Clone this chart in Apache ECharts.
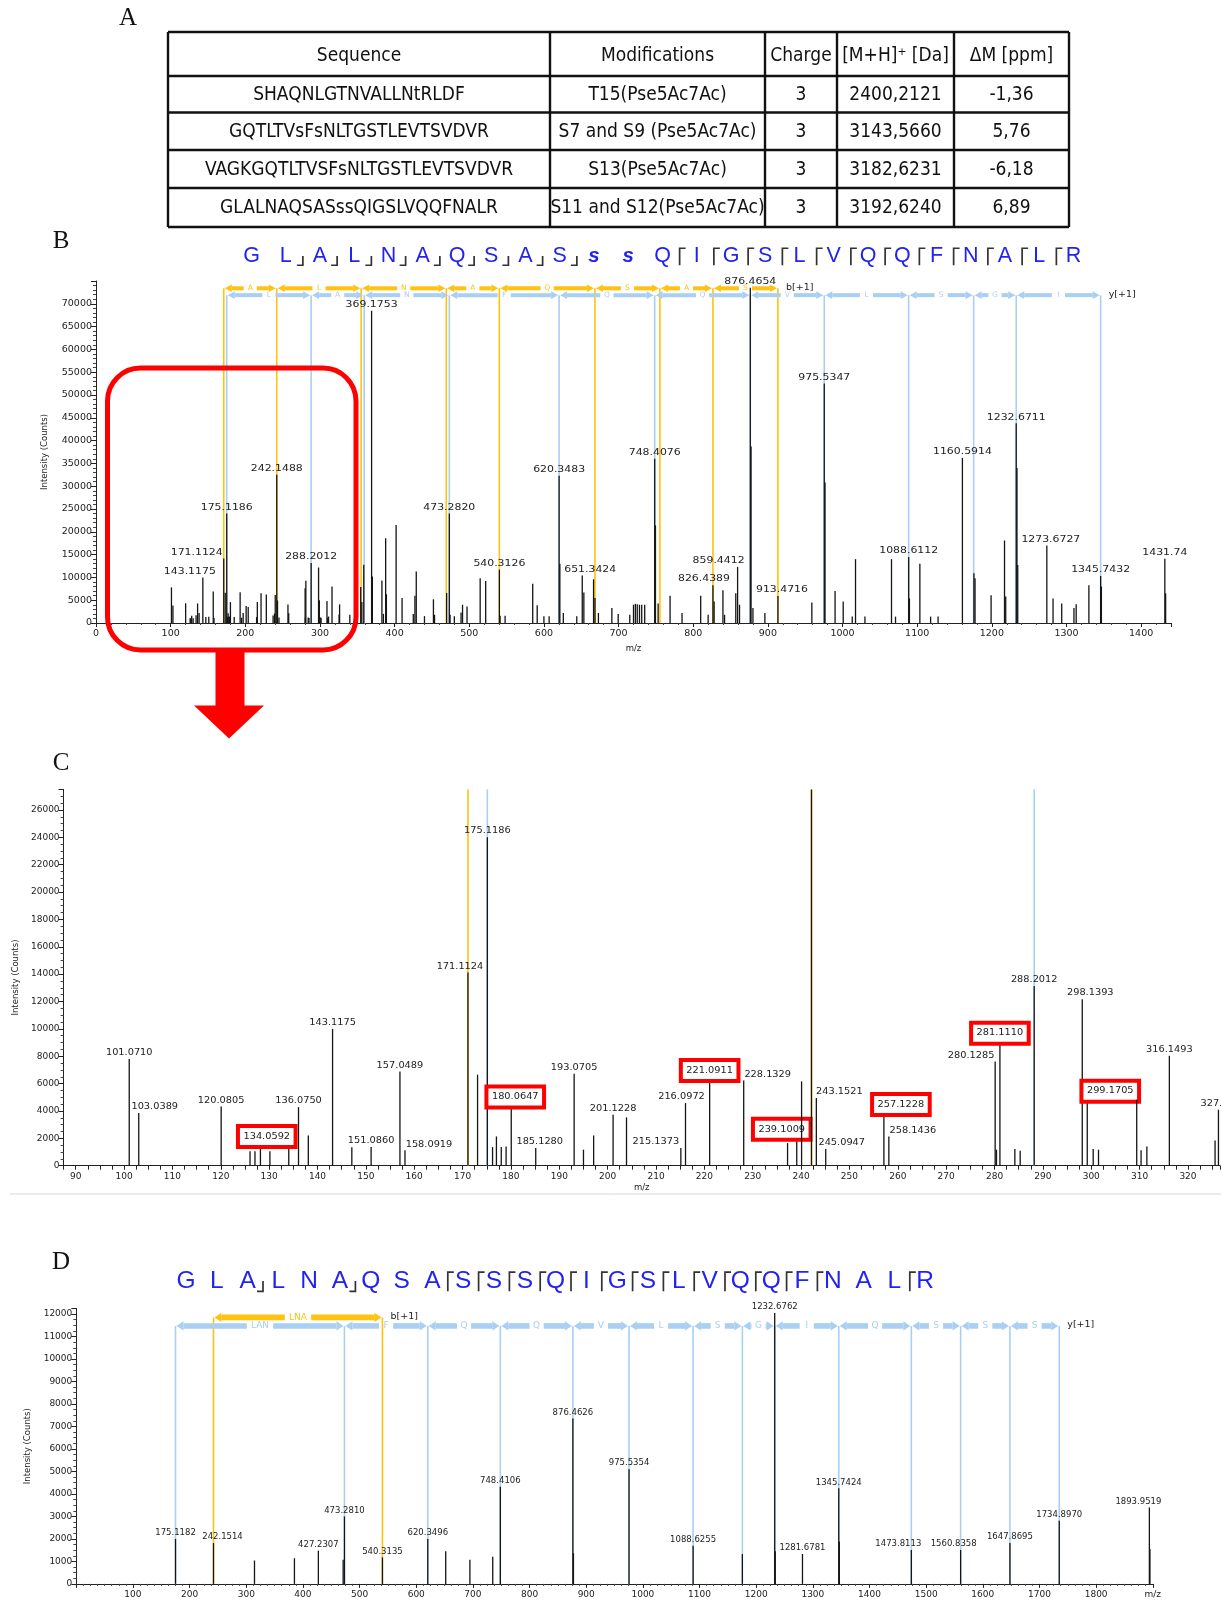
<!DOCTYPE html>
<html><head><meta charset="utf-8">
<script src="https://cdn.jsdelivr.net/npm/echarts@6/dist/echarts.min.js"></script>
<style>html,body{margin:0;padding:0;background:#fff}#c{width:1221px;height:1602px}</style>
</head><body><div id="c"></div>
<script>
// ---------------- DATA ----------------
const tableHeader = ['Sequence', 'Modifications', 'Charge', '[M+H]\u207A [Da]', '\u0394M [ppm]'];
const tableSequence = ['SHAQNLGTNVALLNtRLDF', 'GQTLTVsFsNLTGSTLEVTSVDVR', 'VAGKGQTLTVSFsNLTGSTLEVTSVDVR', 'GLALNAQSASssQIGSLVQQFNALR'];
const tableModification = ['T15(Pse5Ac7Ac)', 'S7 and S9 (Pse5Ac7Ac)', 'S13(Pse5Ac7Ac)', 'S11 and S12(Pse5Ac7Ac)'];
const tableCharge = ['3', '3', '3', '3'];
const tableMass = ['2400,2121', '3143,5660', '3182,6231', '3192,6240'];
const tableDelta = ['-1,36', '5,76', '-6,18', '6,89'];

// spectrum (panels B and C) - low mass part
const peaksLowMz = [101.0710, 103.0389, 120.0805, 126.05, 127.07, 128.2, 130.16, 134.0592, 136.0750, 138.1,
  143.1175, 147.1, 151.0860, 157.0489, 158.0919, 171.1124, 173.1, 175.1186, 176.2, 177.0, 178.0, 179.0,
  180.0647, 185.1280, 193.0705, 195.0, 197.1, 201.1228, 203.9, 215.1373, 216.0972, 221.0911, 228.1329,
  237.2, 239.1009, 240.1, 242.1488, 243.1521, 245.0947, 257.1228, 258.1436, 280.1285, 280.4, 281.1110,
  284.2, 285.3, 288.2012, 298.1393, 299.1705, 300.4, 301.5, 309.4, 310.3, 311.5, 316.1493, 325.6, 326.3];
const peaksLowInt = [7800, 3850, 4330, 1050, 1050, 1600, 1050, 1700, 4280, 2200,
  10000, 1340, 1360, 6890, 1120, 14120, 6650, 24000, 1360, 2140, 1360, 1410,
  4580, 1290, 6720, 1170, 2210, 3720, 3530, 1290, 4580, 6520, 6230,
  1650, 2070, 6160, 32500, 4940, 1220, 4040, 2140, 7620, 1170, 9250,
  1220, 1100, 13140, 12170, 5000, 1220, 1170, 4820, 1120, 1410, 8030, 1850, 4090];
// spectrum (panel B) - high mass part
const peaksHighMz = [340, 354.6, 356.1, 358.7, 369.1753, 370.2, 383.0, 385.0, 388.0, 389.0, 402.0, 410.0,
  425.0, 427.2, 429.0, 440.0, 452.0, 453.5, 469.7, 473.2820, 474.3, 480.0, 489.0, 491.0, 497.0, 514.6,
  522.0, 540.3126, 541.3, 548.0, 585.0, 591.0, 600.0, 607.0, 620.3483, 621.35, 626.0, 644.0, 651.3424,
  653.5, 666.5, 668.4, 673.0, 691.0, 699.5, 715.0, 720.0, 722.5, 725.0, 728.0, 731.0, 735.0, 748.4076,
  749.41, 753.0, 769.0, 785.0, 810.0, 820.0, 826.4389, 828.0, 839.8, 842.0, 857.0, 859.4412, 862.0,
  876.4654, 877.47, 880.0, 896.0, 913.4716, 958.9, 975.5347, 976.54, 990.0, 1000.9, 1013.0, 1017.4,
  1030.0, 1065.6, 1071.0, 1088.6112, 1089.6, 1103.6, 1118.0, 1128.0, 1160.5914, 1176.0, 1177.5, 1199.0,
  1217.0, 1218.6, 1232.6711, 1233.67, 1234.7, 1273.6727, 1282.0, 1293.6, 1310.0, 1313.0, 1330.0,
  1345.7432, 1346.75, 1431.74, 1432.8];
const peaksHighInt = [1800, 7900, 4600, 12750, 68500, 10200, 9300, 2000, 18600, 6300, 21500, 5500,
  2000, 6000, 11300, 1500, 5200, 1800, 6600, 24000, 1800, 1500, 2300, 4000, 3600, 9800,
  9200, 11700, 1600, 1600, 8600, 3900, 1500, 1500, 32300, 13000, 2200, 1500, 10400,
  6700, 9600, 5500, 2200, 3300, 2000, 1800, 4000, 4200, 4100, 4000, 4000, 4000, 36000,
  21400, 4300, 6000, 2200, 6000, 1800, 8300, 4700, 7200, 1800, 6500, 12300, 4000,
  73500, 38700, 3300, 2200, 5900, 4500, 52500, 30800, 7000, 4700, 1400, 14000,
  1400, 14000, 1400, 14500, 5400, 13000, 1400, 1400, 36200, 10900, 9800, 6100,
  18100, 5800, 43800, 34000, 12700, 17000, 5400, 4300, 3300, 4100, 8300,
  10300, 8000, 14100, 6500];

const labelsB = ['143.1175', '171.1124', '175.1186', '242.1488', '288.2012', '369.1753', '473.2820', '540.3126',
  '620.3483', '651.3424', '748.4076', '826.4389', '859.4412', '876.4654', '913.4716', '975.5347', '1088.6112',
  '1160.5914', '1232.6711', '1273.6727', '1345.7432', '1431.74'];
const labelsC = ['101.0710', '103.0389', '120.0805', '134.0592', '136.0750', '143.1175', '151.0860', '157.0489',
  '158.0919', '171.1124', '175.1186', '180.0647', '185.1280', '193.0705', '201.1228', '215.1373', '216.0972',
  '221.0911', '228.1329', '239.1009', '243.1521', '245.0947', '257.1228', '258.1436', '280.1285', '281.1110',
  '288.2012', '298.1393', '299.1705', '316.1493', '327.1'];
const boxedC = ['134.0592', '180.0647', '221.0911', '239.1009', '257.1228', '281.1110', '299.1705'];

// fragment ladders panel B
const bIonsB = [171.1124, 242.1488, 355.19, 469.23, 540.3126, 668.37, 755.40, 826.4389, 913.4716];
const bResB = ['A', 'L', 'N', 'A', 'Q', 'S', 'A', 'S'];
const yIonsB = [175.1186, 288.2012, 359.24, 473.2820, 620.3483, 748.4076, 876.4654, 975.5347, 1088.6112, 1175.64, 1232.6711, 1345.7432];
const yResB = ['L', 'A', 'N', 'F', 'Q', 'Q', 'V', 'L', 'S', 'G', 'I'];
// ion lines panel C
const bIonsC = [171.1124, 242.1488];
const yIonsC = [175.1186, 288.2012];

// panel D
const peaksDMz = [175.1182, 242.1514, 314.5, 385.0, 427.2307, 471.0, 473.2810, 540.3135, 620.3496, 652.0,
  694.7, 735.0, 748.4106, 876.4626, 877.46, 975.5354, 1088.6255, 1175.6, 1232.6762, 1233.68, 1281.6781,
  1345.7424, 1346.75, 1473.8113, 1560.8358, 1647.8695, 1734.8970, 1893.9519, 1894.95];
const peaksDInt = [2000, 1820, 1040, 1140, 1480, 1070, 3000, 1180, 2000, 1450,
  1070, 1210, 4320, 7360, 1360, 5100, 1700, 1330, 12050, 1450, 1330,
  4250, 1880, 1510, 1510, 1820, 2810, 3400, 1550];
const labelsD = ['175.1182', '242.1514', '427.2307', '473.2810', '540.3135', '620.3496', '748.4106', '876.4626',
  '975.5354', '1088.6255', '1232.6762', '1281.6781', '1345.7424', '1473.8113', '1560.8358', '1647.8695',
  '1734.8970', '1893.9519'];
const bIonsD = [242.1514, 540.3135];
const bResD = ['LNA'];
const yIonsD = [175.1182, 473.2810, 620.3496, 748.4106, 876.4626, 975.5354, 1088.6255, 1175.6, 1232.6762,
  1345.7424, 1473.8113, 1560.8358, 1647.8695, 1734.8970];
const yResD = ['LAN', 'F', 'Q', 'Q', 'V', 'L', 'S', 'G', 'I', 'Q', 'S', 'S', 'S'];

// sequence annotations
const seqB = ['G','L','A','L','N','A','Q','S','A','S','s','s','Q','I','G','S','L','V','Q','Q','F','N','A','L','R'];
const seqBModified = [10, 11];
const seqBbCuts = [1, 2, 3, 4, 5, 6, 7, 8, 9];
const seqByCuts = [13, 14, 15, 16, 17, 18, 19, 20, 21, 22, 23, 24];
const seqD = ['G','L','A','L','N','A','Q','S','A','S','S','S','Q','I','G','S','L','V','Q','Q','F','N','A','L','R'];
const seqDbCuts = [2, 5];
const seqDyCuts = [9, 10, 11, 12, 13, 14, 15, 16, 17, 18, 19, 20, 21, 24];

// ---------------- LAYOUT / STYLE ----------------
const FONT = 'Liberation Sans, Arial, Helvetica, sans-serif';
const LFONT = '"DejaVu Sans", Verdana, sans-serif';
const NARROW = '"Liberation Sans Narrow", "DejaVu Sans Condensed", "Arial Narrow", sans-serif';
const SERIF = '"Liberation Serif", "Times New Roman", serif';
const YEL = '#FFC20E', BLU = '#A9CFF2', SEQBLUE = '#2323f0';

const shiftsB = {'143.1175': [-13, 0], '171.1124': [-27, 0], '651.3424': [8, 0], '826.4389': [-9, 0],
  '859.4412': [-19, 0], '913.4716': [4, 0], '1273.6727': [4, 0]};
const shiftsC = {'103.0389': [16, 0], '134.0592': [-22, 0], '158.0919': [24, 0], '171.1124': [-8, 0],
  '180.0647': [4, 0], '185.1280': [4, 0], '215.1373': [-25, 0], '216.0972': [-4, 0], '228.1329': [24, 0],
  '239.1009': [-15, -2], '243.1521': [23, 0], '245.0947': [16, 0], '257.1228': [17, 0], '258.1436': [24, 0],
  '280.1285': [-24, 0], '298.1393': [8, 0], '299.1705': [23, 0], '327.1': [-4, 0]};
const shiftsD = {'242.1514': [9, 0], '1473.8113': [-13, 0], '1560.8358': [-7, 0], '1893.9519': [-11, 0]};

function buildLabelMap(mzs, labels) {
  const map = {};
  labels.forEach(l => {
    const v = parseFloat(l);
    let best = -1, bd = 1e9;
    mzs.forEach((m, i) => { const d = Math.abs(m - v); if (d < bd) { bd = d; best = i; } });
    if (best >= 0 && bd < 1.5) map[best] = l;
  });
  return map;
}
function textWidth(s, fs) {
  let w = 0;
  for (const ch of s) w += (ch === '.' || ch === ',') ? 0.318 : 0.636;
  return w * fs;
}

function peakSeries(gi, mzs, ints, labels, boxed, shifts, fs, sx) {
  const labelMap = buildLabelMap(mzs, labels);
  const boxSet = new Set(boxed);
  return {
    type: 'custom', xAxisIndex: gi, yAxisIndex: gi, z: 5, silent: true,
    data: mzs.map((m, i) => [m, ints[i]]),
    encode: {x: 0, y: 1},
    renderItem(params, api) {
      const cs = params.coordSys;
      const m = api.value(0), v = api.value(1);
      const b = api.coord([m, 0]), t = api.coord([m, v]);
      if (b[0] < cs.x - 1 || b[0] > cs.x + cs.width + 1) return null;
      const ty = Math.max(t[1], cs.y);
      const ch = [{type: 'line', shape: {x1: b[0], y1: b[1], x2: b[0], y2: ty}, style: {stroke: '#151515', lineWidth: 1.3}}];
      const lab = labelMap[params.dataIndex];
      if (lab) {
        const sh = shifts[lab] || [0, 0];
        const tx = b[0] + sh[0], tcy = ty - 6 + sh[1];
        if (boxSet.has(lab)) {
          const w = textWidth(lab, fs) * sx + 11, h = 21;
          ch.push({type: 'rect', shape: {x: tx - w / 2, y: tcy - h / 2, width: w, height: h},
            style: {fill: '#fff', stroke: '#ff0000', lineWidth: 4}});
        }
        ch.push({type: 'text', x: tx, y: tcy, scaleX: sx, scaleY: 1,
          style: {text: lab, x: 0, y: 0, align: 'center', verticalAlign: 'middle',
          fontSize: fs, fontFamily: LFONT, fill: '#222'}});
      }
      return {type: 'group', children: ch};
    }
  };
}

function ladderSeries(gi, ions, residues, rowVal, color, tail, bh, fs) {
  return {
    type: 'custom', xAxisIndex: gi, yAxisIndex: gi, z: 4, silent: true,
    data: residues.map((r, i) => [ions[i], ions[i + 1], rowVal]),
    encode: {x: [0, 1], y: 2},
    renderItem(params, api) {
      const p1 = api.coord([api.value(0), api.value(2)]);
      const p2 = api.coord([api.value(1), api.value(2)]);
      const y = p1[1], x1 = p1[0], x2 = p2[0];
      const lab = residues[params.dataIndex];
      const mid = (x1 + x2) / 2, tw = lab.length * fs * 0.68 + 8;
      const ah = 7, hh = bh + 1.8;
      const ch = [];
      ch.push({type: 'polygon', shape: {points: [[x1 + 1, y], [x1 + 1 + ah, y - hh], [x1 + 1 + ah, y + hh]]}, style: {fill: color}});
      ch.push({type: 'polygon', shape: {points: [[x2 - 1, y], [x2 - 1 - ah, y - hh], [x2 - 1 - ah, y + hh]]}, style: {fill: color}});
      const l1 = x1 + 1 + ah, r1 = mid - tw / 2, l2 = mid + tw / 2, r2 = x2 - 1 - ah;
      if (r1 > l1) ch.push({type: 'rect', shape: {x: l1, y: y - bh, width: r1 - l1, height: 2 * bh}, style: {fill: color}});
      if (r2 > l2) ch.push({type: 'rect', shape: {x: l2, y: y - bh, width: r2 - l2, height: 2 * bh}, style: {fill: color}});
      ch.push({type: 'text', style: {text: lab, x: mid, y: y, align: 'center', verticalAlign: 'middle',
        fontSize: fs, fontFamily: LFONT, fill: color}});
      if (tail && params.dataIndex === residues.length - 1) {
        ch.push({type: 'text', style: {text: tail, x: x2 + 8, y: y - 1, align: 'left', verticalAlign: 'middle',
          fontSize: 9.5, fontFamily: LFONT, fill: '#222'}});
      }
      return {type: 'group', children: ch};
    }
  };
}

function vertSeries(gi, ions, topVal, color) {
  return {
    type: 'custom', xAxisIndex: gi, yAxisIndex: gi, z: 2, silent: true,
    data: ions.map(m => [m, topVal]),
    encode: {x: 0, y: 1},
    renderItem(params, api) {
      const cs = params.coordSys;
      const b = api.coord([api.value(0), 0]), t = api.coord([api.value(0), api.value(1)]);
      return {type: 'line', shape: {x1: b[0], y1: b[1], x2: b[0], y2: Math.max(t[1], cs.y)},
        style: {stroke: color, lineWidth: 1.6}};
    }
  };
}

function xAxisCfg(gi, min, max, interval, fmt, name, nameGap, minorSplit, fs) {
  return {
    gridIndex: gi, type: 'value', min, max, interval,
    name, nameLocation: 'middle', nameGap, nameTextStyle: {fontSize: 8.5, color: '#222', fontFamily: LFONT},
    axisLine: {lineStyle: {color: '#222', width: 1}},
    axisTick: {length: 4, lineStyle: {color: '#222'}},
    minorTick: {show: minorSplit > 0, splitNumber: minorSplit || 2, length: 2, lineStyle: {color: '#444'}},
    splitLine: {show: false},
    axisLabel: {fontSize: fs, color: '#222', fontFamily: LFONT, margin: 6, formatter: fmt}
  };
}
function yAxisCfg(gi, max, interval, labelMax, nameGap, minorSplit, fs) {
  return {
    gridIndex: gi, type: 'value', min: 0, max, interval,
    name: 'Intensity (Counts)', nameLocation: 'middle', nameGap,
    nameTextStyle: {fontSize: 8.5, color: '#222', fontFamily: LFONT},
    axisLine: {show: true, lineStyle: {color: '#222', width: 1}},
    axisTick: {show: true, length: 5, lineStyle: {color: '#222'}},
    minorTick: {show: true, splitNumber: minorSplit, length: 3, lineStyle: {color: '#444'}},
    splitLine: {show: false},
    axisLabel: {fontSize: fs, color: '#222', fontFamily: LFONT, margin: 4,
      formatter: v => (v > labelMax ? '' : String(v))}
  };
}

// graphics: table, panel letters, sequences, red box and arrow
const graphic = [];
const colX = [168, 550, 765, 837, 954, 1069];
const rowY = [32, 76, 112.5, 150, 188, 227];
rowY.forEach(y => graphic.push({type: 'line', shape: {x1: colX[0], y1: y, x2: colX[5], y2: y}, style: {stroke: '#111', lineWidth: 2.4}}));
colX.forEach(x => graphic.push({type: 'line', shape: {x1: x, y1: rowY[0], x2: x, y2: rowY[5]}, style: {stroke: '#111', lineWidth: 2.4}}));
const tableCols = [tableSequence, tableModification, tableCharge, tableMass, tableDelta];
tableHeader.forEach((h, c) => {
  const cx = (colX[c] + colX[c + 1]) / 2;
  graphic.push({type: 'text', style: {text: h, x: cx, y: (rowY[0] + rowY[1]) / 2 + 2, align: 'center', verticalAlign: 'middle',
    fontSize: 19, fontFamily: NARROW, fill: '#111'}});
  tableCols[c].forEach((t, r) => {
    graphic.push({type: 'text', style: {text: t, x: cx, y: (rowY[r + 1] + rowY[r + 2]) / 2 + 1, align: 'center', verticalAlign: 'middle',
      fontSize: 19, fontFamily: NARROW, fill: '#111'}});
  });
});
[['A', 128, 18], ['B', 61, 241], ['C', 61, 763], ['D', 61, 1262]].forEach(([t, x, y]) => {
  graphic.push({type: 'text', style: {text: t, x, y, align: 'center', verticalAlign: 'middle', fontSize: 25, fontFamily: SERIF, fill: '#111'}});
});

function drawSequence(letters, modified, bCuts, yCuts, x0, step, yc, fs) {
  const half = fs * 0.36;
  letters.forEach((l, i) => {
    const mod = modified.indexOf(i) >= 0;
    graphic.push({type: 'text', style: {text: l, x: x0 + i * step, y: yc, align: 'center', verticalAlign: 'middle',
      fontSize: mod ? fs - 1 : fs, fontWeight: mod ? 'bold' : 'normal', fontStyle: mod ? 'italic' : 'normal',
      fontFamily: FONT, fill: SEQBLUE}});
  });
  bCuts.forEach(i => {
    const xm = x0 + (i + 0.5) * step;
    graphic.push({type: 'polyline', shape: {points: [[xm, yc], [xm, yc + half + 1.5], [xm - 6, yc + half + 1.5]]},
      style: {stroke: '#333', lineWidth: 1.7, fill: 'none'}});
  });
  yCuts.forEach(i => {
    const xm = x0 + (i - 0.5) * step;
    graphic.push({type: 'polyline', shape: {points: [[xm + 6, yc - half], [xm, yc - half], [xm, yc + half + 1.5]]},
      style: {stroke: '#333', lineWidth: 1.7, fill: 'none'}});
  });
}
drawSequence(seqB, seqBModified, seqBbCuts, seqByCuts, 251.5, 34.25, 256, 21.5);
drawSequence(seqD, [], seqDbCuts, seqDyCuts, 186, 30.8, 1281, 24.5);

graphic.push({type: 'rect', z: 100, shape: {x: 107.5, y: 368, width: 248.5, height: 282, r: 33},
  style: {fill: 'none', stroke: '#ff0000', lineWidth: 5}});
graphic.push({type: 'polygon', z: 100, shape: {points: [[215.5, 652], [244.5, 652], [244.5, 705.5], [264, 705.5], [229, 738.5], [194, 705.5], [215.5, 705.5]]},
  style: {fill: '#ff0000'}});
graphic.push({type: 'line', shape: {x1: 10, y1: 1194, x2: 1221, y2: 1194}, style: {stroke: '#d8d8d8', lineWidth: 1}});

// ---------------- CHART ----------------
const allMz = peaksLowMz.concat(peaksHighMz);
const allInt = peaksLowInt.concat(peaksHighInt);
const cMz = [], cInt = [];
peaksLowMz.forEach((m, i) => { if (m >= 87.5 && m <= 326.6) { cMz.push(m); cInt.push(peaksLowInt[i]); } });

const option = {
  animation: false,
  backgroundColor: '#fff',
  grid: [
    {left: 96, top: 281, width: 1075, height: 342, containLabel: false, outerBoundsMode: 'none'},
    {left: 63.6, top: 789.4, width: 1156.3, height: 376.3, containLabel: false, outerBoundsMode: 'none'},
    {left: 76.3, top: 1308.4, width: 1076.5, height: 275.5, containLabel: false, outerBoundsMode: 'none'}
  ],
  xAxis: [
    xAxisCfg(0, 0, 1440, 100, v => (v % 100 === 0 ? String(v) : ''), 'm/z', 21, 5, 9.5),
    xAxisCfg(1, 87.5, 326.6, 2.5, v => (Math.abs(v % 10) < 1e-6 ? String(Math.round(v)) : ''), 'm/z', 18, 0, 9),
    xAxisCfg(2, 0, 1900, 100, v => (v === 0 ? '' : (v === 1900 ? 'm/z' : String(v))), '', 20, 8, 9)
  ],
  yAxis: [
    yAxisCfg(0, 75000, 5000, 70000, 47, 5, 9.5),
    yAxisCfg(1, 27500, 2000, 26000, 34, 4, 9),
    yAxisCfg(2, 12250, 1000, 12000, 30, 4, 9)
  ],
  graphic: graphic,
  series: [
    vertSeries(0, yIonsB, 71900, BLU),
    vertSeries(0, bIonsB, 73400, YEL),
    ladderSeries(0, yIonsB, yResB, 71900, BLU, 'y[+1]', 2, 7.5),
    ladderSeries(0, bIonsB, bResB, 73400, YEL, 'b[+1]', 2, 7.5),
    peakSeries(0, allMz, allInt, labelsB, [], shiftsB, 9, 1.21),

    vertSeries(1, yIonsC, 1e6, BLU),
    vertSeries(1, bIonsC, 1e6, YEL),
    peakSeries(1, cMz, cInt, labelsC, boxedC, shiftsC, 8.5, 1.15),

    vertSeries(2, yIonsD, 11470, BLU),
    vertSeries(2, bIonsD, 11850, YEL),
    ladderSeries(2, yIonsD, yResD, 11470, BLU, 'y[+1]', 2.8, 9),
    ladderSeries(2, bIonsD, bResD, 11850, YEL, 'b[+1]', 2.8, 9),
    peakSeries(2, peaksDMz, peaksDInt, labelsD, [], shiftsD, 8.5, 1.0)
  ]
};
const chart = echarts.init(document.getElementById('c'), null, {renderer: 'canvas'});
chart.setOption(option);
</script>
</body></html>
